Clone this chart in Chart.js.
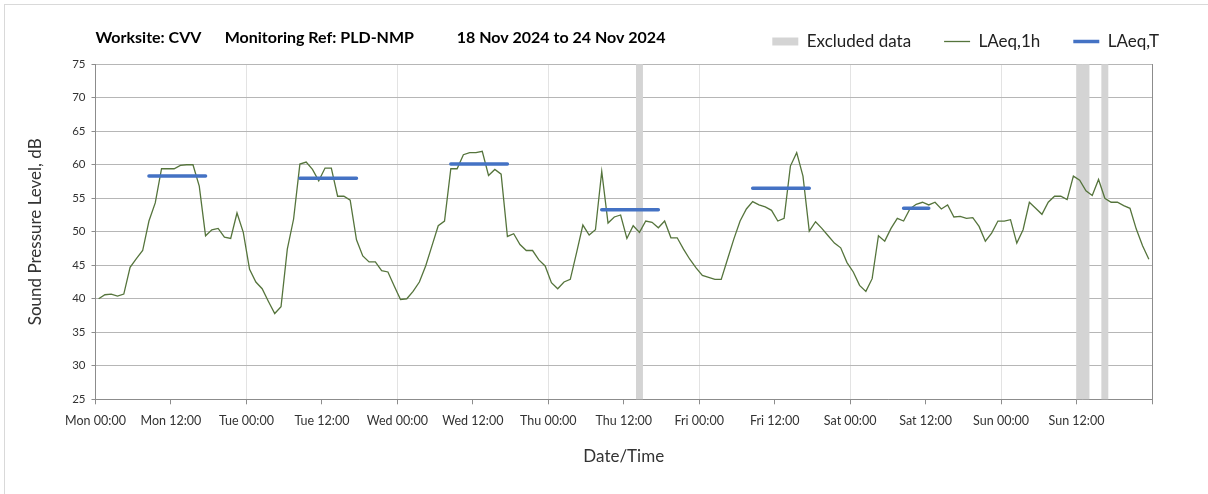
<!DOCTYPE html>
<html>
<head>
<meta charset="utf-8">
<script src="https://cdn.jsdelivr.net/npm/chart.js@4.4.1/dist/chart.umd.min.js"></script>
<style>
  html, body { margin: 0; padding: 0; background: #fff; }
  #wrap { position: relative; width: 1208px; height: 494px; overflow: hidden; }
  #frame { position: absolute; left: 4px; top: 4px; right: -4px; bottom: -4px; border: 1px solid #d9d9d9; pointer-events: none; }
</style>
</head>
<body>
<div id="wrap">
  <canvas id="chart" width="1208" height="494"></canvas>
  <div id="frame"></div>
</div>
<script>
// x tick labels, every 12 hours from Mon 00:00
const tickLabels = ['Mon 00:00', 'Mon 12:00', 'Tue 00:00', 'Tue 12:00', 'Wed 00:00', 'Wed 12:00',
    'Thu 00:00', 'Thu 12:00', 'Fri 00:00', 'Fri 12:00', 'Sat 00:00', 'Sat 12:00',
    'Sun 00:00', 'Sun 12:00', ''];

// LAeq,1h - one value per hour, Mon 00:00 .. Sun 23:00
const hourlyLevels = [
    40.0, 40.6, 40.7, 40.4, 40.7, 44.7, 46.0, 47.2, 51.6, 54.3, 59.4, 59.4,   // Mon
    59.4, 59.9, 60.0, 60.0, 56.8, 49.4, 50.3, 50.5, 49.2, 49.0, 52.8, 49.9,
    44.4, 42.5, 41.5, 39.6, 37.8, 38.8, 47.4, 51.9, 60.1, 60.4, 59.3, 57.6,   // Tue
    59.5, 59.5, 55.3, 55.3, 54.7, 48.8, 46.4, 45.5, 45.5, 44.2, 44.0, 41.9,
    39.9, 40.0, 41.1, 42.5, 44.9, 47.9, 50.9, 51.6, 59.4, 59.4, 61.5, 61.8,   // Wed
    61.8, 62.0, 58.4, 59.3, 58.6, 49.3, 49.7, 48.1, 47.2, 47.2, 45.8, 44.9,
    42.4, 41.5, 42.5, 42.9, 46.9, 51.0, 49.5, 50.3, 59.0, 51.3, 52.2, 52.5,   // Thu
    49.0, 50.9, 49.9, 51.6, 51.4, 50.6, 51.6, 49.1, 49.1, 47.4, 45.9, 44.6,
    43.5, 43.2, 42.9, 42.9, 45.9, 48.9, 51.6, 53.4, 54.5, 54.0, 53.7, 53.2,   // Fri
    51.6, 52.0, 59.8, 61.8, 58.3, 50.1, 51.5, 50.5, 49.4, 48.3, 47.6, 45.4,
    44.0, 42.0, 41.1, 43.0, 49.4, 48.6, 50.5, 52.0, 51.6, 53.4, 54.1, 54.4,   // Sat
    54.0, 54.4, 53.4, 54.0, 52.2, 52.3, 52.0, 52.1, 50.8, 48.6, 49.8, 51.6,
    51.6, 51.8, 48.3, 50.3, 54.4, 53.5, 52.6, 54.4, 55.3, 55.3, 54.8, 58.3,   // Sun
    57.7, 56.1, 55.4, 57.8, 55.0, 54.4, 54.4, 53.9, 53.5, 50.4, 47.9, 45.9
];

// LAeq,T - daytime periods (hour from Mon 00:00)
const periodStart = [8, 32, 56, 80, 104, 128];
const periodEnd = [18, 42, 66, 90, 114, 133];
const periodLevel = [58.3, 58.0, 60.1, 53.3, 56.5, 53.5];

// hours flagged as excluded
const excludedHours = [86, 156, 157, 160];

const hourlyData = hourlyLevels.map((v, i) => ({ x: i + 0.5, y: v }));

const periodData = [];
periodLevel.forEach((v, i) => {
    periodData.push({ x: periodStart[i] + 0.5, y: v });
    periodData.push({ x: periodEnd[i] - 0.5, y: v });
    periodData.push({ x: periodEnd[i] - 0.5, y: null });
});

const excludedData = excludedHours.map(h => ({ x: h + 0.5, y: 75 }));

Chart.defaults.font.family = 'Lato, "Open Sans", sans-serif';
Chart.defaults.color = '#333';

new Chart(document.getElementById('chart').getContext('2d'), {
    type: 'line',
    data: {
        datasets: [{
            type: 'bar',
            label: 'Excluded data',
            data: excludedData,
            backgroundColor: '#d4d4d4',
            borderWidth: 0,
            barPercentage: 1,
            categoryPercentage: 1,
            pointStyle: 'rect',
            order: 2
        }, {
            label: 'LAeq,1h',
            data: hourlyData,
            borderColor: '#55743c',
            borderWidth: 1.3,
            pointRadius: 0,
            pointBorderWidth: 1.3,
            pointStyle: 'line',
            tension: 0,
            order: 1
        }, {
            label: 'LAeq,T',
            data: periodData,
            borderColor: '#4472c4',
            borderWidth: 3.5,
            borderCapStyle: 'round',
            pointRadius: 0,
            pointBorderWidth: 3.5,
            pointStyle: 'line',
            spanGaps: false,
            order: 0
        }]
    },
    options: {
        responsive: false,
        animation: false,
        devicePixelRatio: 1,
        layout: {
            padding: { left: 0, right: 16, top: 0, bottom: 0 }
        },
        plugins: {
            tooltip: { enabled: false },
            legend: {
                display: true,
                position: 'top',
                align: 'end',
                reverse: true,
                labels: {
                    usePointStyle: true,
                    pointStyleWidth: 26,
                    boxHeight: 8,
                    padding: 33,
                    color: '#222',
                    font: { size: 17 }
                }
            },
            title: {
                display: true,
                text: 'Worksite: CVV      Monitoring Ref: PLD-NMP           18 Nov 2024 to 24 Nov 2024',
                align: 'start',
                position: 'top',
                fullSize: false,
                weight: 500,
                color: '#000',
                font: { size: 16, weight: 'bold' },
                padding: { top: -32, bottom: 17 }
            }
        },
        scales: {
            x: {
                type: 'linear',
                min: 0,
                max: 168,
                offset: false,
                afterFit: s => { s.height = 94.7; },
                ticks: {
                    stepSize: 12,
                    autoSkip: false,
                    maxRotation: 0,
                    padding: 9,
                    color: '#333',
                    font: { size: 12.5 },
                    callback: v => tickLabels[Math.round(v / 12)]
                },
                grid: {
                    offset: false,
                    color: c => (c.tick && c.tick.value % 24 === 0) ? '#e3e3e3' : 'rgba(0,0,0,0)',
                    tickColor: '#8c8c8c',
                    tickLength: 5
                },
                border: { color: '#8c8c8c' },
                title: {
                    display: true,
                    text: 'Date/Time',
                    color: '#333',
                    font: { size: 17 },
                    padding: { top: 0, bottom: 27 }
                }
            },
            y: {
                min: 25,
                max: 75,
                afterFit: s => { s.width = 95.5; },
                ticks: {
                    stepSize: 5,
                    padding: 6,
                    color: '#333',
                    font: { size: 11.5 }
                },
                grid: {
                    color: '#b6b6b6',
                    tickColor: '#8c8c8c',
                    tickLength: 4
                },
                border: { color: '#8c8c8c' },
                title: {
                    display: true,
                    text: 'Sound Pressure Level, dB',
                    color: '#333',
                    font: { size: 17 },
                    padding: { top: 25, bottom: 0 }
                }
            },
            y2: {
                position: 'right',
                afterFit: s => { s.width = 40; },
                ticks: { display: false },
                grid: { drawOnChartArea: false, drawTicks: false },
                border: { color: '#8c8c8c' }
            }
        }
    }
});
</script>
</body>
</html>
